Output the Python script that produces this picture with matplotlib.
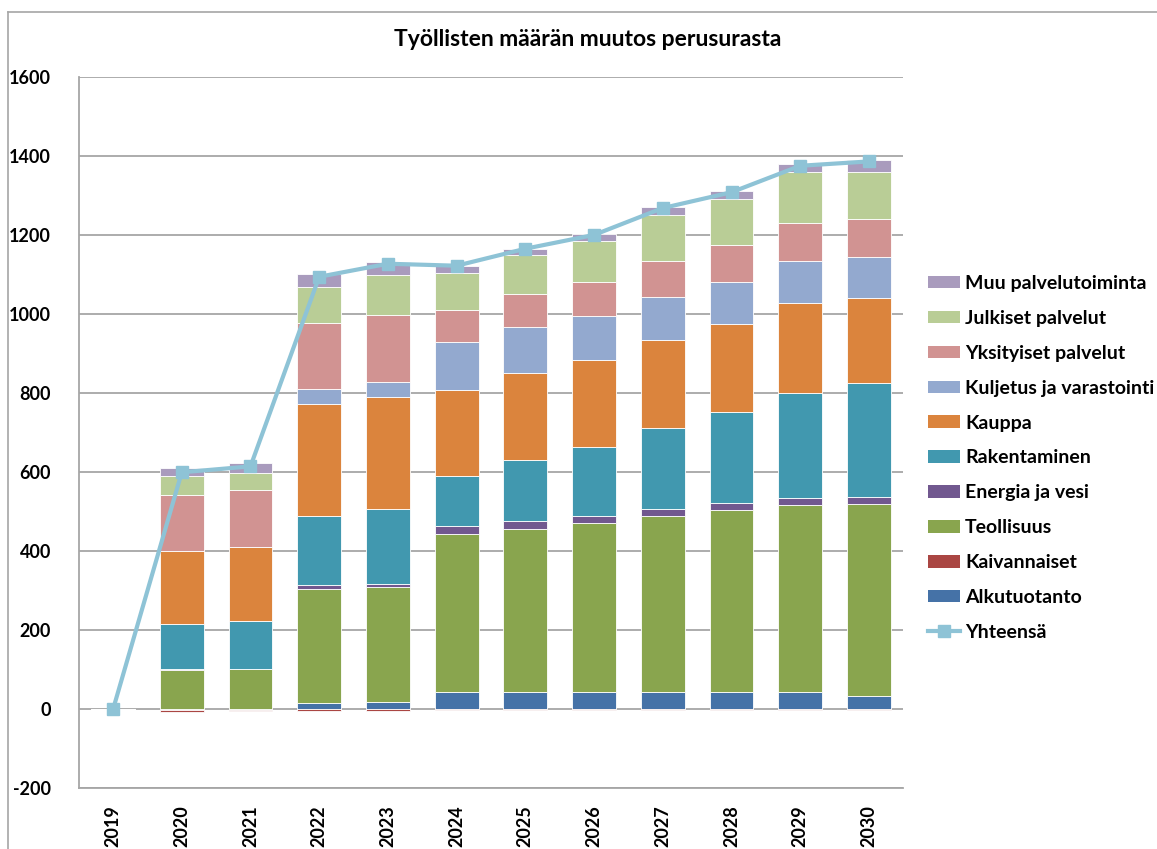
import numpy as np
import matplotlib.pyplot as plt
from matplotlib.lines import Line2D
from matplotlib.patches import Patch

plt.rcParams['font.family'] = ['Lato', 'DejaVu Sans']
plt.rcParams['font.weight'] = 'bold'
plt.rcParams['axes.unicode_minus'] = False

years = ['2019', '2020', '2021', '2022', '2023', '2024', '2025', '2026', '2027', '2028', '2029', '2030']

# stacked components, bottom to top
alkutuotanto = [0, -2, -2, 17, 19, 44, 44, 44, 44, 44, 44, 34]
kaivannaiset = [0, -6, -3, -4, -4, -1, -1, -1, -3, -1, -3, -3]
teollisuus = [0, 100, 102, 287, 290, 401, 413, 427, 445, 461, 473, 487]
energia = [0, 1, 1, 11, 9, 20, 19, 18, 17, 17, 19, 17]
rakentaminen = [0, 114, 121, 175, 188, 125, 155, 176, 205, 230, 264, 287]
kauppa = [0, 186, 188, 283, 285, 219, 220, 220, 223, 223, 229, 216]
kuljetus = [0, 0, 0, 39, 37, 122, 117, 110, 110, 108, 107, 105]
yksityiset = [0, 142, 143, 165, 171, 81, 83, 87, 90, 93, 96, 95]
julkiset = [0, 48, 44, 93, 101, 93, 98, 103, 118, 117, 128, 119]
muu = [0, 20, 24, 31, 33, 18, 17, 19, 20, 20, 20, 30]
yhteensa = [0, 600, 615, 1095, 1128, 1123, 1166, 1201, 1269, 1309, 1376, 1387]

series = [
    ('Alkutuotanto', alkutuotanto, '#4572A7'),
    ('Kaivannaiset', kaivannaiset, '#AA4643'),
    ('Teollisuus', teollisuus, '#89A54E'),
    ('Energia ja vesi', energia, '#71588F'),
    ('Rakentaminen', rakentaminen, '#4198AF'),
    ('Kauppa', kauppa, '#DB843D'),
    ('Kuljetus ja varastointi', kuljetus, '#93A9CF'),
    ('Yksityiset palvelut', yksityiset, '#D19392'),
    ('Julkiset palvelut', julkiset, '#B9CD96'),
    ('Muu palvelutoiminta', muu, '#A99BBD'),
]
line_color = '#8EC3D6'

fig = plt.figure(figsize=(11.57, 8.49), dpi=100)
ax = fig.add_axes([78.7 / 1157, 1 - 788.3 / 849, (903.3 - 78.7) / 1157, (788.3 - 77.3) / 849])

x = np.arange(len(years))
pos_bottom = np.zeros(len(years))
neg_bottom = np.zeros(len(years))
for name, vals, col in series:
    v = np.array(vals, dtype=float)
    bottom = np.where(v >= 0, pos_bottom, neg_bottom)
    ax.bar(x, v, width=0.64, bottom=bottom, color=col, edgecolor='white', linewidth=0.6, zorder=2)
    pos_bottom = pos_bottom + np.where(v >= 0, v, 0)
    neg_bottom = neg_bottom + np.where(v < 0, v, 0)

ax.plot(x, yhteensa, color=line_color, lw=3, marker='s', ms=9, zorder=3)

ax.set_xlim(-0.5, len(years) - 0.5)
ax.set_ylim(-200, 1600)
ax.set_yticks(np.arange(-200, 1601, 200))
ax.set_xticks(x)
ax.set_xticklabels(years, rotation=90, fontsize=13, fontweight='bold')
for lab in ax.get_yticklabels():
    lab.set_fontsize(13)
    lab.set_fontweight('bold')
ax.tick_params(length=0, pad=20, axis='y')
ax.tick_params(length=0, pad=12, axis='x')
ax.grid(axis='y', color='#A6A6A6', lw=1.3, zorder=0)
ax.set_axisbelow(True)
for s in ['top', 'right']:
    ax.spines[s].set_visible(False)
for s in ['left', 'bottom']:
    ax.spines[s].set_color('#A6A6A6')
    ax.spines[s].set_linewidth(1.3)

fig.text(588 / 1157, 1 - 40 / 849, 'Työllisten määrän muutos perusurasta',
         ha='center', va='center', fontsize=16.5, fontweight='bold')

handles = [Patch(facecolor=col, edgecolor='none') for _, _, col in series[::-1]]
labels = [name for name, _, _ in series[::-1]]
handles.append(Line2D([], [], color=line_color, lw=3, marker='s', ms=9))
labels.append('Yhteensä')
fig.legend(handles, labels, loc='upper left', bbox_to_anchor=(928 / 1157, 1 - 275 / 849),
           frameon=False, fontsize=14, handlelength=1.65, handleheight=0.62,
           handletextpad=0.25, labelspacing=0.92, borderpad=0, borderaxespad=0)

# chart area border (only top and left visible in the crop)
fig.add_artist(Line2D([8 / 1157, 1.0], [1 - 12 / 849] * 2, color='#A6A6A6', lw=1.2, transform=fig.transFigure))
fig.add_artist(Line2D([8 / 1157] * 2, [0.0, 1 - 12 / 849], color='#A6A6A6', lw=1.2, transform=fig.transFigure))

fig.savefig('out.png', dpi=100)
